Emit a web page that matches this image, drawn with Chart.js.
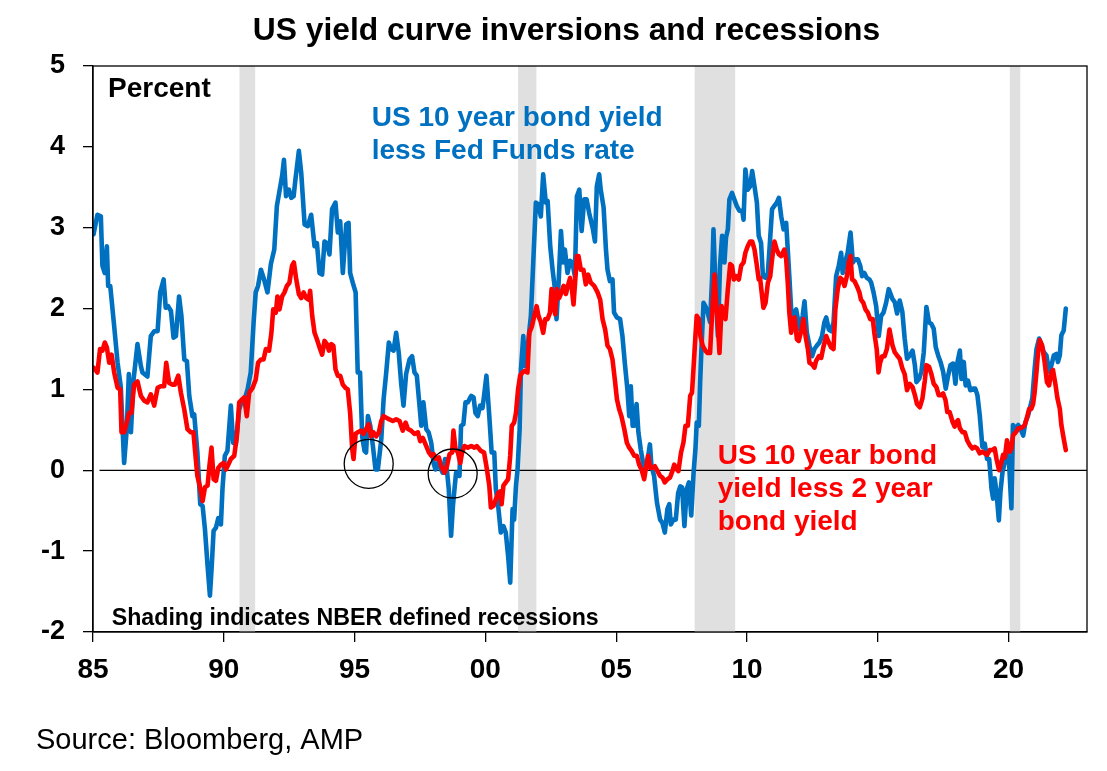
<!DOCTYPE html>
<html>
<head>
<meta charset="utf-8">
<script src="https://cdn.jsdelivr.net/npm/chart.js@4.4.1/dist/chart.umd.min.js"></script>
<style>
html,body{margin:0;padding:0;background:#fff;}
#wrap{position:relative;width:1107px;height:771px;}
</style>
</head>
<body>
<div id="wrap"><canvas id="c" width="1107" height="771"></canvas></div>
<script>
const titleText = 'US yield curve inversions and recessions';
const unitText = 'Percent';
const blueLabel = ['US 10 year bond yield', 'less Fed Funds rate'];
const redLabel = ['US 10 year bond', 'yield less 2 year', 'bond yield'];
const shadingNote = 'Shading indicates NBER defined recessions';
const sourceText = 'Source: Bloomberg, AMP';

const xTickValues = [1985, 1990, 1995, 2000, 2005, 2010, 2015, 2020];
const xTickLabels = ['85', '90', '95', '00', '05', '10', '15', '20'];
const yTickValues = [-2, -1, 0, 1, 2, 3, 4, 5];

const recessionStarts = [1990.6, 2001.25, 2008.0, 2020.05];
const recessionEnds   = [1991.2, 2001.95, 2009.55, 2020.45];

const circleYears  = [1995.54, 1998.75];
const circleValues = [0.08, -0.04];

const blueYears = [
1985.02,1985.17,1985.30,1985.36,1985.45,1985.53,1985.58,1985.66,1985.81,1985.94,
1986.06,1986.19,1986.29,1986.37,1986.45,1986.55,1986.70,1986.83,1986.89,1987.08,
1987.21,1987.34,1987.47,1987.57,1987.70,1987.78,1987.87,1987.98,1988.08,1988.17,
1988.29,1988.38,1988.49,1988.59,1988.68,1988.80,1988.87,1988.99,1989.10,1989.19,
1989.28,1989.38,1989.47,1989.54,1989.61,1989.70,1989.79,1989.89,1989.95,1990.04,
1990.14,1990.27,1990.36,1990.46,1990.59,1990.69,1990.78,1990.91,1991.03,1991.14,
1991.22,1991.31,1991.42,1991.54,1991.67,1991.80,1991.93,1992.03,1992.23,1992.30,
1992.38,1992.49,1992.58,1992.67,1992.74,1992.87,1992.96,1993.09,1993.21,1993.34,
1993.47,1993.56,1993.66,1993.76,1993.85,1993.94,1994.04,1994.14,1994.27,1994.36,
1994.45,1994.55,1994.68,1994.77,1994.83,1994.93,1995.04,1995.12,1995.21,1995.29,
1995.38,1995.44,1995.51,1995.60,1995.70,1995.80,1995.89,1996.02,1996.11,1996.21,
1996.31,1996.40,1996.49,1996.59,1996.69,1996.78,1996.87,1996.97,1997.10,1997.20,
1997.29,1997.38,1997.46,1997.55,1997.63,1997.74,1997.83,1997.93,1998.02,1998.09,
1998.18,1998.27,1998.37,1998.46,1998.54,1998.60,1998.69,1998.76,1998.82,1998.88,
1998.95,1999.01,1999.07,1999.16,1999.24,1999.33,1999.39,1999.46,1999.55,1999.62,
1999.71,1999.80,1999.89,1999.95,2000.04,2000.15,2000.24,2000.34,2000.40,2000.49,
2000.59,2000.69,2000.78,2000.87,2000.95,2001.04,2001.10,2001.17,2001.23,2001.31,
2001.36,2001.45,2001.51,2001.61,2001.74,2001.83,2001.93,2002.02,2002.12,2002.21,
2002.31,2002.38,2002.48,2002.57,2002.66,2002.72,2002.80,2002.89,2002.97,2003.04,
2003.14,2003.24,2003.33,2003.42,2003.50,2003.59,2003.68,2003.78,2003.87,2003.97,
2004.10,2004.19,2004.26,2004.35,2004.41,2004.52,2004.61,2004.67,2004.76,2004.86,
2004.92,2005.03,2005.15,2005.24,2005.33,2005.43,2005.50,2005.56,2005.63,2005.69,
2005.78,2005.85,2005.94,2006.07,2006.20,2006.29,2006.35,2006.45,2006.56,2006.68,
2006.77,2006.86,2006.96,2007.03,2007.09,2007.19,2007.28,2007.37,2007.45,2007.52,
2007.61,2007.70,2007.78,2007.87,2007.96,2008.03,2008.08,2008.16,2008.21,2008.26,
2008.34,2008.41,2008.50,2008.59,2008.67,2008.72,2008.80,2008.89,2008.97,2009.05,
2009.14,2009.20,2009.27,2009.33,2009.43,2009.52,2009.61,2009.71,2009.82,2009.87,
2009.94,2010.03,2010.12,2010.20,2010.29,2010.38,2010.45,2010.54,2010.61,2010.71,
2010.80,2010.86,2010.96,2011.05,2011.14,2011.22,2011.31,2011.40,2011.50,2011.56,
2011.62,2011.69,2011.78,2011.88,2011.97,2012.03,2012.13,2012.20,2012.29,2012.39,
2012.49,2012.58,2012.67,2012.77,2012.87,2012.96,2013.03,2013.13,2013.22,2013.31,
2013.41,2013.51,2013.60,2013.66,2013.75,2013.85,2013.96,2014.05,2014.13,2014.24,
2014.33,2014.40,2014.49,2014.58,2014.68,2014.75,2014.84,2014.94,2015.04,2015.13,
2015.22,2015.32,2015.42,2015.56,2015.65,2015.74,2015.84,2015.94,2016.03,2016.12,
2016.22,2016.33,2016.42,2016.48,2016.58,2016.67,2016.76,2016.86,2016.96,2017.05,
2017.14,2017.22,2017.31,2017.40,2017.50,2017.60,2017.69,2017.78,2017.88,2017.97,
2018.05,2018.14,2018.20,2018.29,2018.36,2018.45,2018.54,2018.65,2018.73,2018.81,
2018.90,2019.00,2019.09,2019.18,2019.26,2019.35,2019.41,2019.47,2019.54,2019.63,
2019.69,2019.77,2019.86,2019.94,2020.02,2020.11,2020.17,2020.28,2020.37,2020.45,
2020.56,2020.65,2020.75,2020.81,2020.91,2021.00,2021.07,2021.17,2021.26,2021.35,
2021.45,2021.55,2021.64,2021.73,2021.83,2021.89,2021.96,2022.02,2022.11,2022.19
];
const blueValues = [
2.92,3.16,3.14,2.53,2.44,2.77,2.28,2.28,1.78,1.33,
1.04,0.09,0.51,1.19,0.47,1.12,1.56,1.29,1.21,1.16,
1.66,1.72,1.72,2.20,2.36,2.01,2.03,1.97,1.64,1.66,
2.15,1.91,1.37,1.35,0.92,0.67,0.69,0.22,-0.42,-0.44,
-0.73,-1.18,-1.55,-1.18,-0.75,-0.71,-0.59,-0.67,-0.23,0.18,
0.24,0.80,0.34,0.32,0.75,0.86,0.86,1.00,1.21,1.83,
2.20,2.28,2.48,2.36,2.20,2.55,2.73,3.27,3.64,3.84,
3.39,3.47,3.37,3.39,3.60,3.95,3.68,3.04,3.02,3.16,
2.77,2.81,2.44,2.42,2.83,2.81,2.67,3.23,3.31,2.94,
3.08,2.44,3.04,3.06,2.44,2.32,2.20,1.21,1.21,0.42,
0.24,0.22,0.67,0.55,0.30,0.01,0.01,0.38,0.88,1.21,
1.58,1.50,1.48,1.70,1.45,1.08,0.80,1.19,1.37,1.41,
1.21,1.17,0.88,0.55,0.84,0.51,0.47,0.34,0.09,0.01,
0.09,0.03,-0.03,0.14,-0.03,-0.23,-0.81,-0.44,-0.23,-0.03,
-0.03,-0.07,0.55,0.57,0.84,0.84,0.88,0.92,0.90,0.71,
0.67,0.80,0.77,0.92,1.17,0.67,0.22,0.22,-0.23,-0.44,
-0.77,-0.69,-0.77,-1.06,-1.39,-0.48,-0.61,-0.19,0.01,0.51,
1.25,1.66,1.29,1.50,1.91,2.57,3.31,3.29,3.14,3.66,
3.31,3.33,2.77,2.48,2.24,1.87,2.32,2.96,2.57,2.73,
2.44,2.59,2.57,2.40,3.39,3.47,2.96,3.35,3.35,3.18,
3.00,2.83,3.51,3.66,3.47,3.25,2.73,2.48,2.34,2.36,
1.95,1.89,1.87,1.66,1.33,1.00,0.67,1.04,0.55,0.55,
0.82,0.47,0.26,0.01,0.12,0.32,0.05,-0.07,-0.40,-0.61,
-0.65,-0.77,-0.48,-0.42,-0.67,-0.61,-0.61,-0.28,-0.20,-0.21,
-0.69,-0.23,-0.15,-0.56,-0.03,0.26,0.59,0.55,1.08,1.50,
2.07,2.03,1.95,1.83,2.40,2.98,2.24,1.66,2.53,2.90,
2.57,2.88,2.98,3.35,3.43,3.35,3.27,3.21,3.21,3.10,
3.72,3.47,3.51,3.70,3.51,3.31,2.90,2.81,2.40,2.38,
2.44,2.73,3.23,3.27,3.31,3.37,3.14,2.98,3.06,2.73,
2.40,1.99,1.91,1.99,1.83,1.74,1.91,2.09,1.70,1.54,
1.41,1.50,1.54,1.58,1.66,1.83,1.89,1.74,1.72,1.83,
2.40,2.53,2.69,2.44,2.57,2.69,2.94,2.57,2.61,2.61,
2.53,2.40,2.44,2.38,2.36,2.32,2.20,2.03,1.66,1.91,
1.95,2.07,2.24,2.12,2.08,1.94,2.10,1.96,1.63,1.38,
1.42,1.48,1.30,1.09,1.13,1.22,1.46,2.02,1.83,1.81,
1.75,1.52,1.42,1.34,1.22,1.01,1.17,1.30,1.32,1.07,
1.34,1.48,1.13,1.34,1.05,1.11,0.99,1.01,1.01,0.93,
0.68,0.29,0.33,0.14,0.14,-0.23,-0.35,-0.10,-0.27,-0.62,
-0.27,-0.02,0.10,0.23,0.10,-0.47,0.56,0.52,0.56,0.52,
0.43,0.60,0.68,0.76,0.89,1.26,1.50,1.63,1.55,1.46,
1.42,1.22,1.30,1.42,1.44,1.34,1.42,1.67,1.73,2.00
];

const redYears = [
1985.02,1985.17,1985.27,1985.36,1985.45,1985.53,1985.62,1985.71,1985.81,1985.94,
1986.04,1986.09,1986.19,1986.29,1986.38,1986.47,1986.57,1986.70,1986.83,1986.96,
1987.08,1987.21,1987.34,1987.47,1987.59,1987.72,1987.80,1987.91,1988.04,1988.13,
1988.26,1988.36,1988.49,1988.61,1988.74,1988.84,1988.93,1988.99,1989.08,1989.19,
1989.28,1989.38,1989.45,1989.53,1989.61,1989.70,1989.79,1989.89,1989.99,1990.08,
1990.17,1990.27,1990.40,1990.50,1990.59,1990.71,1990.78,1990.88,1990.97,1991.10,
1991.22,1991.31,1991.42,1991.52,1991.61,1991.73,1991.82,1991.89,1991.99,1992.05,
1992.13,1992.23,1992.32,1992.41,1992.51,1992.61,1992.68,1992.77,1992.87,1992.96,
1993.05,1993.15,1993.25,1993.30,1993.38,1993.47,1993.56,1993.66,1993.76,1993.85,
1993.94,1994.02,1994.11,1994.19,1994.27,1994.36,1994.45,1994.55,1994.65,1994.74,
1994.83,1994.91,1994.96,1995.04,1995.12,1995.25,1995.34,1995.44,1995.54,1995.63,
1995.72,1995.83,1995.93,1996.02,1996.11,1996.21,1996.33,1996.46,1996.59,1996.72,
1996.84,1996.95,1997.04,1997.16,1997.29,1997.42,1997.51,1997.61,1997.74,1997.84,
1997.93,1998.02,1998.12,1998.22,1998.31,1998.44,1998.53,1998.63,1998.73,1998.78,
1998.86,1998.95,1999.04,1999.11,1999.20,1999.33,1999.46,1999.58,1999.67,1999.83,
1999.95,2000.06,2000.15,2000.21,2000.31,2000.40,2000.49,2000.57,2000.62,2000.69,
2000.78,2000.87,2000.95,2001.01,2001.10,2001.17,2001.25,2001.33,2001.42,2001.51,
2001.61,2001.68,2001.78,2001.87,2001.96,2002.03,2002.12,2002.21,2002.29,2002.38,
2002.47,2002.53,2002.61,2002.67,2002.73,2002.82,2002.91,2002.99,2003.08,2003.17,
2003.24,2003.31,2003.37,2003.43,2003.50,2003.56,2003.65,2003.75,2003.84,2003.93,
2004.03,2004.16,2004.29,2004.39,2004.48,2004.58,2004.67,2004.76,2004.86,2004.95,
2005.03,2005.12,2005.20,2005.31,2005.41,2005.50,2005.59,2005.69,2005.79,2005.88,
2005.97,2006.07,2006.13,2006.22,2006.30,2006.39,2006.48,2006.58,2006.68,2006.77,
2006.86,2006.96,2007.06,2007.15,2007.22,2007.32,2007.38,2007.48,2007.57,2007.65,
2007.74,2007.83,2007.90,2007.97,2008.03,2008.08,2008.16,2008.22,2008.31,2008.41,
2008.50,2008.59,2008.67,2008.76,2008.82,2008.89,2008.95,2009.03,2009.10,2009.18,
2009.27,2009.36,2009.43,2009.50,2009.59,2009.69,2009.78,2009.87,2009.94,2010.03,
2010.12,2010.20,2010.29,2010.38,2010.45,2010.50,2010.58,2010.63,2010.71,2010.80,
2010.89,2010.96,2011.05,2011.14,2011.22,2011.31,2011.37,2011.43,2011.50,2011.56,
2011.62,2011.69,2011.75,2011.82,2011.91,2011.98,2012.07,2012.16,2012.24,2012.33,
2012.39,2012.49,2012.58,2012.64,2012.75,2012.84,2012.92,2013.03,2013.13,2013.22,
2013.31,2013.38,2013.47,2013.56,2013.64,2013.73,2013.82,2013.89,2013.96,2014.02,
2014.11,2014.20,2014.30,2014.36,2014.45,2014.53,2014.62,2014.71,2014.81,2014.87,
2014.96,2015.03,2015.09,2015.17,2015.26,2015.35,2015.45,2015.56,2015.65,2015.74,
2015.84,2015.94,2016.03,2016.12,2016.22,2016.33,2016.42,2016.50,2016.61,2016.71,
2016.80,2016.86,2016.96,2017.05,2017.14,2017.24,2017.33,2017.43,2017.50,2017.59,
2017.66,2017.75,2017.86,2017.94,2018.01,2018.07,2018.14,2018.24,2018.33,2018.42,
2018.52,2018.62,2018.71,2018.80,2018.90,2019.00,2019.09,2019.18,2019.28,2019.38,
2019.47,2019.54,2019.64,2019.73,2019.79,2019.86,2019.94,2020.05,2020.11,2020.17,
2020.28,2020.37,2020.45,2020.56,2020.62,2020.68,2020.79,2020.87,2020.94,2021.00,
2021.07,2021.13,2021.19,2021.28,2021.38,2021.47,2021.55,2021.64,2021.70,2021.79,
2021.87,2021.96,2022.02,2022.11,2022.19
];
const redValues = [
1.27,1.21,1.50,1.48,1.58,1.52,1.33,1.43,1.21,1.02,
1.00,0.47,0.47,0.59,0.71,0.71,1.06,1.10,0.92,0.86,
0.84,0.94,0.80,1.02,1.04,1.04,1.33,1.08,1.06,1.06,
1.17,0.96,0.75,0.51,0.47,0.47,0.14,-0.07,-0.19,-0.38,
-0.21,-0.19,0.05,0.28,-0.11,-0.13,0.03,0.07,0.09,0.01,
0.07,0.14,0.18,0.42,0.84,0.88,0.90,0.67,0.96,1.02,
1.12,1.33,1.37,1.37,1.50,1.48,1.70,1.99,1.95,2.15,
1.99,2.15,2.20,2.28,2.32,2.53,2.57,2.36,2.18,2.13,
2.20,2.13,2.11,2.22,1.91,1.70,1.62,1.52,1.43,1.60,
1.56,1.48,1.56,1.54,1.25,1.17,1.17,1.06,1.02,1.00,
0.71,0.26,0.14,0.45,0.47,0.49,0.45,0.51,0.57,0.42,
0.47,0.42,0.47,0.61,0.67,0.65,0.63,0.61,0.63,0.61,
0.49,0.59,0.51,0.49,0.45,0.47,0.36,0.40,0.30,0.22,
0.18,0.20,0.14,0.16,0.05,-0.03,0.05,0.20,0.22,0.49,
0.26,0.22,0.09,0.22,0.30,0.28,0.30,0.28,0.30,0.24,
0.22,0.01,-0.19,-0.46,-0.44,-0.36,-0.28,-0.26,-0.42,-0.19,
-0.15,-0.11,0.18,0.55,0.59,0.71,1.00,1.17,1.21,1.23,
1.21,1.70,1.78,1.91,2.03,1.91,1.83,1.70,1.87,1.87,
1.95,2.24,2.03,1.93,2.24,2.13,2.20,2.28,2.18,2.30,
2.38,2.24,2.05,2.32,2.65,2.65,2.48,2.48,2.30,2.42,
2.32,2.28,2.20,2.11,1.87,1.74,1.54,1.50,1.37,1.12,
0.88,0.75,0.67,0.51,0.34,0.28,0.24,0.18,0.18,0.07,
0.01,-0.11,0.01,0.18,0.03,0.03,0.05,-0.01,-0.07,-0.09,
-0.15,-0.11,-0.09,-0.01,0.07,0.01,-0.01,0.22,0.34,0.55,
0.55,0.92,0.96,1.33,1.66,1.91,1.87,1.66,1.54,1.48,
1.45,1.45,1.95,2.42,2.11,1.78,1.45,2.03,1.95,1.87,
2.24,2.55,2.53,2.36,2.40,2.36,2.53,2.57,2.69,2.77,
2.83,2.83,2.73,2.53,2.36,2.38,2.15,2.01,2.07,2.32,
2.40,2.61,2.83,2.73,2.67,2.65,2.69,2.73,2.61,2.32,
1.95,1.70,1.87,1.89,1.62,1.60,1.72,1.87,1.66,1.50,
1.33,1.31,1.27,1.35,1.41,1.39,1.52,1.66,1.58,1.52,
1.50,1.99,2.24,2.38,2.36,2.28,2.40,2.57,2.65,2.36,
2.34,2.28,2.20,2.11,2.07,1.99,1.95,1.87,1.87,1.70,
1.50,1.21,1.33,1.41,1.41,1.50,1.74,1.55,1.46,1.42,
1.38,1.26,1.19,0.99,1.07,1.03,0.93,0.82,0.78,0.89,
1.11,1.30,1.28,1.19,1.07,1.03,0.93,0.93,0.95,0.87,
0.72,0.72,0.60,0.54,0.60,0.62,0.52,0.47,0.47,0.37,
0.31,0.27,0.29,0.27,0.21,0.23,0.21,0.19,0.25,0.25,
0.27,0.14,0.00,0.10,0.19,0.16,0.37,0.23,0.27,0.43,
0.47,0.52,0.52,0.54,0.56,0.62,0.76,0.76,0.82,0.97,
1.22,1.46,1.61,1.55,1.34,1.09,1.05,1.22,1.24,1.07,
0.89,0.76,0.56,0.39,0.25
];

const zeroLineYears = [1985.25, 2023];
const zeroLineValues = [0, 0];

const FONT = "'Liberation Sans', Arial, Helvetica, sans-serif";
const BLUE = '#0070C0';
const RED = '#FF0000';

const toPoints = (xs, ys) => xs.map((x, i) => ({ x: x, y: ys[i] }));

const recessionPlugin = {
  id: 'recessions',
  beforeDatasetsDraw(chart) {
    const { ctx, chartArea, scales } = chart;
    ctx.save();
    ctx.fillStyle = '#E0E0E0';
    for (let i = 0; i < recessionStarts.length; i++) {
      const x0 = scales.x.getPixelForValue(recessionStarts[i]);
      const x1 = scales.x.getPixelForValue(recessionEnds[i]);
      ctx.fillRect(x0, chartArea.top, x1 - x0, chartArea.bottom - chartArea.top);
    }
    ctx.restore();
  }
};

const frameAndTextPlugin = {
  id: 'frameText',
  afterDraw(chart) {
    const { ctx, chartArea } = chart;
    ctx.save();
    ctx.strokeStyle = '#000';
    ctx.lineWidth = 1.3;
    ctx.strokeRect(chartArea.left, chartArea.top, chartArea.right - chartArea.left, chartArea.bottom - chartArea.top);

    ctx.textBaseline = 'alphabetic';
    ctx.fillStyle = '#000';
    ctx.textAlign = 'center';
    ctx.font = 'bold 31.8px ' + FONT;
    ctx.fillText(titleText, 566.5, 39.5);

    ctx.textAlign = 'left';
    ctx.font = 'bold 28px ' + FONT;
    ctx.fillText(unitText, 108, 97.3);

    ctx.fillStyle = BLUE;
    ctx.fillText(blueLabel[0], 371.7, 125.5);
    ctx.fillText(blueLabel[1], 371.7, 158.5);

    ctx.fillStyle = RED;
    ctx.fillText(redLabel[0], 717.7, 464);
    ctx.fillText(redLabel[1], 717.7, 497);
    ctx.fillText(redLabel[2], 717.7, 530);

    ctx.fillStyle = '#000';
    ctx.font = 'bold 23.2px ' + FONT;
    ctx.fillText(shadingNote, 111.7, 625);

    ctx.font = '29px ' + FONT;
    ctx.fillText(sourceText, 36, 749);
    ctx.restore();
  }
};

new Chart(document.getElementById('c'), {
  type: 'line',
  data: {
    datasets: [
      {
        label: 'circles',
        data: toPoints(circleYears, circleValues),
        showLine: false,
        pointRadius: 24.5,
        pointHoverRadius: 24.5,
        pointStyle: 'circle',
        pointBackgroundColor: 'rgba(0,0,0,0)',
        pointBorderColor: '#000',
        pointBorderWidth: 1.3,
        order: 0
      },
      {
        label: 'US 10 year bond yield less 2 year bond yield',
        data: toPoints(redYears, redValues),
        borderColor: RED,
        borderWidth: 4.6,
        pointRadius: 0,
        tension: 0,
        borderJoinStyle: 'round',
        borderCapStyle: 'round',
        order: 1
      },
      {
        label: 'US 10 year bond yield less Fed Funds rate',
        data: toPoints(blueYears, blueValues),
        borderColor: BLUE,
        borderWidth: 4.6,
        pointRadius: 0,
        tension: 0,
        borderJoinStyle: 'round',
        borderCapStyle: 'round',
        order: 2
      },
      {
        label: 'zero',
        data: toPoints(zeroLineYears, zeroLineValues),
        borderColor: '#000',
        borderWidth: 1.3,
        pointRadius: 0,
        order: 3
      }
    ]
  },
  options: {
    responsive: false,
    animation: false,
    devicePixelRatio: 1,
    events: [],
    layout: { autoPadding: false, padding: { top: 66, right: 20, bottom: 0, left: 0 } },
    plugins: { legend: { display: false }, tooltip: { enabled: false }, title: { display: false } },
    scales: {
      x: {
        type: 'linear',
        min: 1985,
        max: 2023,
        afterBuildTicks: (s) => { s.ticks = xTickValues.map(v => ({ value: v })); },
        afterFit: (s) => { s.height = 139; s.paddingLeft = 0; s.paddingRight = 0; },
        ticks: {
          autoSkip: false,
          maxRotation: 0,
          padding: 11,
          color: '#000',
          font: { family: FONT, size: 28, weight: 'bold' },
          callback: (v) => xTickLabels[xTickValues.indexOf(v)]
        },
        grid: { drawOnChartArea: false, drawTicks: true, tickLength: 10, color: '#000', lineWidth: 1.3 },
        border: { display: true, color: '#000', width: 1.3 }
      },
      y: {
        type: 'linear',
        min: -2,
        max: 5,
        afterBuildTicks: (s) => { s.ticks = yTickValues.map(v => ({ value: v })); },
        afterFit: (s) => { s.width = 93; s.paddingTop = 0; s.paddingBottom = 0; },
        ticks: {
          padding: 18,
          color: '#000',
          font: { family: FONT, size: 27, weight: 'bold' },
          callback: (v) => String(v)
        },
        grid: { drawOnChartArea: false, drawTicks: true, tickLength: 10, color: '#000', lineWidth: 1.3 },
        border: { display: true, color: '#000', width: 1.3 }
      }
    }
  },
  plugins: [recessionPlugin, frameAndTextPlugin]
});
</script>
</body>
</html>
